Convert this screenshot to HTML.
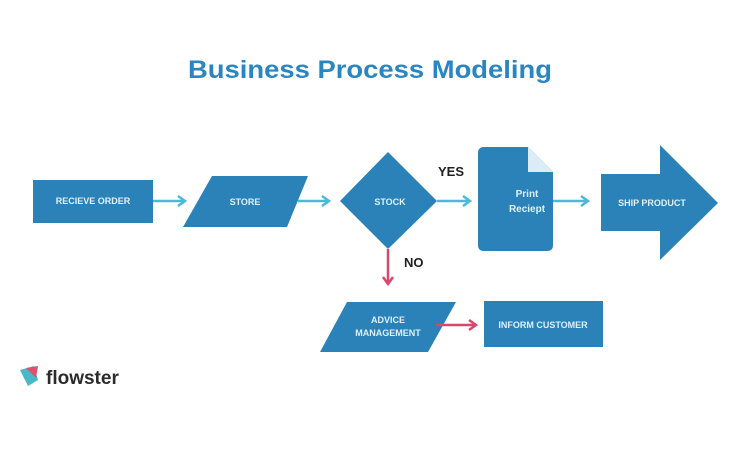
<!DOCTYPE html>
<html><head><meta charset="utf-8"><style>html,body{margin:0;padding:0;background:#fff}svg{display:block}</style></head>
<body>
<svg width="750" height="450" viewBox="0 0 750 450" xmlns="http://www.w3.org/2000/svg" font-family="Liberation Sans, sans-serif">
<rect width="750" height="450" fill="#fff"/>
<text x="188" y="78" font-size="25" font-weight="bold" fill="#2a86c0" textLength="364" lengthAdjust="spacingAndGlyphs">Business Process Modeling</text>
<g fill="#2a82b9">
<rect x="33" y="180" width="120" height="43"/>
<polygon points="212,176 308,176 287,227 183,227"/>
<polygon points="388,152 437,201 388,249 340,201"/>
<path d="M484,147 H528 L553,172 V245 Q553,251 547,251 H484 Q478,251 478,245 V153 Q478,147 484,147 Z"/>
<polygon points="601,174 660,174 660,145 718,203 660,260 660,231 601,231"/>
<polygon points="347,302 456,302 428,352 320,352"/>
<rect x="484" y="301" width="119" height="46"/>
</g>
<polygon points="528,147 553,172 528,172" fill="#dcecf6"/>
<g stroke="#4fb8d6" stroke-width="2.5" fill="none">
<line x1="153" y1="201" x2="184" y2="201"/><polyline points="178,196 185,201 178,206"/>
<line x1="298" y1="201" x2="328" y2="201"/><polyline points="322,196 329,201 322,206"/>
<line x1="437" y1="201" x2="469" y2="201"/><polyline points="463,196 470,201 463,206"/>
<line x1="553" y1="201" x2="587" y2="201"/><polyline points="581,196 588,201 581,206"/>
</g>
<g stroke="#d9476a" stroke-width="2.5" fill="none">
<line x1="388" y1="249" x2="388" y2="283"/><polyline points="383,277 388,284 393,277"/>
<line x1="436" y1="325" x2="475" y2="325"/><polyline points="469,320 476,325 469,330"/>
</g>
<g fill="#dff0fa" font-size="9" font-weight="bold" text-anchor="middle">
<text x="93" y="204">RECIEVE ORDER</text>
<text x="245" y="205">STORE</text>
<text x="390" y="205">STOCK</text>
<text x="527" y="197" font-size="10">Print</text>
<text x="527" y="212" font-size="10">Reciept</text>
<text x="652" y="206">SHIP PRODUCT</text>
<text x="388" y="323">ADVICE</text>
<text x="388" y="336">MANAGEMENT</text>
<text x="543" y="328">INFORM CUSTOMER</text>
</g>
<g fill="#222" font-size="13" font-weight="bold">
<text x="438" y="176">YES</text>
<text x="404" y="267">NO</text>
</g>
<g transform="translate(20,366)">
<path d="M0,4 L14,0 L18,14 L8,20 Z" fill="#48b8c8"/>
<path d="M6,2 L18,0 L16,12 Z" fill="#e0506e"/>
</g>
<text x="46" y="384" font-size="19" font-weight="bold" fill="#2c2c2c">flowster</text>
</svg>
</body></html>
